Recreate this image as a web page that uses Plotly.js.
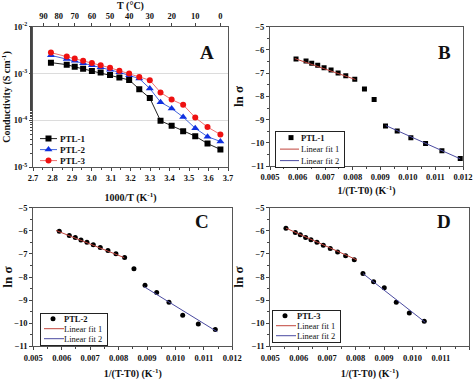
<!DOCTYPE html>
<html>
<head>
<meta charset="utf-8">
<script src="https://cdn.plot.ly/plotly-3.0.1.min.js"></script>
<style>html,body{margin:0;padding:0;background:#fff}#chart{width:474px;height:382px}</style>
</head>
<body>
<div id="chart"></div>
<script>
// ---------- Panel A data ----------
const invT = [2.792, 2.873, 2.914, 2.957, 3.002, 3.047, 3.095, 3.143, 3.193, 3.245, 3.299, 3.354, 3.411, 3.470, 3.532, 3.595, 3.661];
const condPTL1 = [1.71e-3, 1.55e-3, 1.39e-3, 1.26e-3, 1.14e-3, 1.05e-3, 9.3e-4, 8.2e-4, 7.3e-4, 4.65e-4, 3.0e-4, 9.8e-5, 7.7e-5, 5.85e-5, 4.6e-5, 3.2e-5, 2.4e-5];
const condPTL2 = [2.45e-3, 2.04e-3, 1.87e-3, 1.67e-3, 1.51e-3, 1.37e-3, 1.20e-3, 1.06e-3, 9.2e-4, 7.8e-4, 4.8e-4, 2.45e-4, 1.8e-4, 1.18e-4, 6.8e-5, 4.5e-5, 3.55e-5];
const condPTL3 = [2.8e-3, 2.31e-3, 2.09e-3, 1.87e-3, 1.69e-3, 1.51e-3, 1.33e-3, 1.15e-3, 1.0e-3, 8.4e-4, 7.2e-4, 3.95e-4, 2.78e-4, 2.15e-4, 1.15e-4, 7.2e-5, 5.0e-5];
const topTickVals = [2.754, 2.832, 2.914, 3.002, 3.095, 3.193, 3.299, 3.411, 3.532, 3.661];
const topTickText = ['90', '80', '70', '60', '50', '40', '30', '20', '10', '0'];
const logTickVals = [1e-5, 1e-4, 1e-3, 1e-2];
const logTickText = ['10<sup>-5</sup>', '10<sup>-4</sup>', '10<sup>-3</sup>', '10<sup>-2</sup>'];

// ---------- Panel B data (PTL-1) ----------
const xB = [0.005944, 0.006307, 0.006513, 0.006731, 0.006961, 0.007215, 0.00747, 0.007748, 0.008075, 0.008426, 0.008777, 0.009189, 0.009613, 0.010109, 0.010642, 0.011235, 0.0119];
const lnB = [-6.39, -6.475, -6.574, -6.66, -6.76, -6.86, -6.99, -7.11, -7.26, -7.68, -8.13, -9.27, -9.48, -9.78, -10.02, -10.33, -10.67];
const fit1xB = [0.0059, 0.0081], fit1yB = [-6.37, -7.27];
const fit2xB = [0.0092, 0.0119], fit2yB = [-9.25, -10.68];

// ---------- Panel C data (PTL-2) ----------
const xC = [0.005914, 0.006266, 0.006477, 0.006676, 0.006887, 0.00711, 0.007356, 0.007626, 0.007907, 0.008212, 0.00854, 0.008929, 0.00934, 0.009773, 0.010255, 0.010804, 0.011402];
const lnC = [-6.012, -6.197, -6.283, -6.397, -6.496, -6.596, -6.724, -6.853, -6.995, -7.152, -7.636, -8.35, -8.67, -9.09, -9.65, -10.03, -10.27];
const fit1xC = [0.0058, 0.0082], fit1yC = [-5.98, -7.16];
const fit2xC = [0.0089, 0.01147], fit2yC = [-8.42, -10.37];

// ---------- Panel D data (PTL-3) ----------
const xD = [0.005551, 0.005879, 0.006055, 0.006243, 0.00643, 0.006641, 0.006864, 0.00711, 0.007368, 0.007649, 0.007954, 0.008259, 0.008634, 0.009009, 0.009431, 0.009889, 0.010416];
const lnD = [-5.884, -6.069, -6.169, -6.283, -6.382, -6.496, -6.625, -6.767, -6.91, -7.081, -7.252, -7.85, -8.206, -8.463, -9.09, -9.56, -9.917];
const fit1xD = [0.00555, 0.00805], fit1yD = [-5.88, -7.26];
const fit2xD = [0.00826, 0.01045], fit2yD = [-7.85, -9.96];

const FONT = 'Liberation Serif, Times New Roman, serif';
const FIT1 = '#c0443c', FIT2 = '#4a4aa0';

const traces = [
  {x: invT, y: condPTL1, xaxis: 'x', yaxis: 'y', mode: 'lines+markers', name: 'PTL-1', legend: 'legend',
   line: {color: '#222', width: 1}, marker: {symbol: 'square', size: 6, color: '#000'}},
  {x: invT, y: condPTL2, xaxis: 'x', yaxis: 'y', mode: 'lines+markers', name: 'PTL-2', legend: 'legend',
   line: {color: '#4466dd', width: 1}, marker: {symbol: 'triangle-up', size: 7, color: '#1030e0'}},
  {x: invT, y: condPTL3, xaxis: 'x', yaxis: 'y', mode: 'lines+markers', name: 'PTL-3', legend: 'legend',
   line: {color: '#f07070', width: 1}, marker: {symbol: 'circle', size: 6, color: '#ee1111'}},
  {x: [], y: [], xaxis: 'x5', yaxis: 'y', showlegend: false, hoverinfo: 'skip'},

  {x: xB, y: lnB, xaxis: 'x2', yaxis: 'y2', mode: 'markers', name: '<b>PTL-1</b>', legend: 'legend2',
   marker: {symbol: 'square', size: 5, color: '#000'}},
  {x: fit1xB, y: fit1yB, xaxis: 'x2', yaxis: 'y2', mode: 'lines', name: 'Linear fit 1', legend: 'legend2', line: {color: FIT1, width: 1}},
  {x: fit2xB, y: fit2yB, xaxis: 'x2', yaxis: 'y2', mode: 'lines', name: 'Linear fit 2', legend: 'legend2', line: {color: FIT2, width: 1}},

  {x: xC, y: lnC, xaxis: 'x3', yaxis: 'y3', mode: 'markers', name: '<b>PTL-2</b>', legend: 'legend3',
   marker: {symbol: 'circle', size: 5, color: '#000'}},
  {x: fit1xC, y: fit1yC, xaxis: 'x3', yaxis: 'y3', mode: 'lines', name: 'Linear fit 1', legend: 'legend3', line: {color: FIT1, width: 1}},
  {x: fit2xC, y: fit2yC, xaxis: 'x3', yaxis: 'y3', mode: 'lines', name: 'Linear fit 2', legend: 'legend3', line: {color: FIT2, width: 1}},

  {x: xD, y: lnD, xaxis: 'x4', yaxis: 'y4', mode: 'markers', name: '<b>PTL-3</b>', legend: 'legend4',
   marker: {symbol: 'circle', size: 5, color: '#000'}},
  {x: fit1xD, y: fit1yD, xaxis: 'x4', yaxis: 'y4', mode: 'lines', name: 'Linear fit 1', legend: 'legend4', line: {color: FIT1, width: 1}},
  {x: fit2xD, y: fit2yD, xaxis: 'x4', yaxis: 'y4', mode: 'lines', name: 'Linear fit 2', legend: 'legend4', line: {color: FIT2, width: 1}}
];

const W = 474, H = 382;
const dx = (a, b) => [a / W, b / W];
const dy = (top, bot) => [1 - bot / H, 1 - top / H];
const tickFont = {family: FONT, size: 8.5, color: '#111', weight: 'bold'};
const titleFont = {family: FONT, size: 10, color: '#111', weight: 'bold'};

function linX(domain, anchor, title, standoff) {
  return {domain: domain, anchor: anchor, range: [0.005, 0.012], dtick: 0.001, tickformat: '.3f',
    ticks: 'outside', ticklen: 3, tickwidth: 1, tickcolor: '#444', showline: true, linecolor: '#555', linewidth: 1,
    mirror: true, showgrid: false, zeroline: false, tickfont: tickFont, automargin: false,
    minor: {dtick: 0.0005, ticks: 'outside', ticklen: 2, tickcolor: '#444'},
    title: {text: title, font: titleFont, standoff: standoff}};
}
function linY(domain, anchor) {
  return {domain: domain, anchor: anchor, range: [-11, -5], dtick: 1,
    ticks: 'outside', ticklen: 3, tickwidth: 1, tickcolor: '#444', showline: true, linecolor: '#555', linewidth: 1,
    mirror: true, showgrid: false, zeroline: false, tickfont: tickFont, automargin: false,
    minor: {dtick: 0.5, ticks: 'outside', ticklen: 2, tickcolor: '#444'},
    title: {text: 'ln σ', font: {family: FONT, size: 13, color: '#111', weight: 'bold'}, standoff: 4}};
}

const legendCommon = {font: {family: FONT, size: 8.5, color: '#111'}, bgcolor: 'rgba(255,255,255,0)',
  xanchor: 'left', yanchor: 'top', tracegroupgap: 0, itemwidth: 30};

const layout = {
  width: W, height: H, margin: {l: 0, r: 0, t: 0, b: 0},
  paper_bgcolor: '#fff', plot_bgcolor: '#fff', showlegend: true,
  font: {family: FONT},
  xaxis: {domain: dx(33, 228), anchor: 'y', range: [2.7, 3.7], dtick: 0.1, tickformat: '.1f',
    ticks: 'outside', ticklen: 3, tickcolor: '#444', showline: true, linecolor: '#555', linewidth: 1,
    showgrid: false, zeroline: false, tickfont: tickFont, automargin: false,
    minor: {dtick: 0.05, ticks: 'outside', ticklen: 2, tickcolor: '#444'},
    title: {text: '1000/T (K<sup>-1</sup>)', font: titleFont, standoff: 11}},
  xaxis5: {overlaying: 'x', side: 'top', anchor: 'y', range: [2.7, 3.7], tickvals: topTickVals, ticktext: topTickText,
    ticks: 'outside', ticklen: 3, tickcolor: '#444', showline: true, linecolor: '#555', linewidth: 1,
    showgrid: false, zeroline: false, tickfont: tickFont, automargin: false,
    title: {text: 'T (°C)', font: titleFont, standoff: 2}},
  yaxis: {domain: dy(27, 169), anchor: 'x', type: 'log', range: [-5, -2], tickvals: logTickVals, ticktext: logTickText,
    ticks: 'outside', ticklen: 3, tickcolor: '#444', showline: true, linecolor: '#555', linewidth: 1, mirror: true,
    showgrid: true, gridcolor: '#dcdcdc', gridwidth: 1, zeroline: false, tickfont: tickFont, automargin: false,
    minor: {ticks: 'outside', ticklen: 2, tickcolor: '#444', showgrid: false},
    title: {text: 'Conductivity (S cm<sup>-1</sup>)', font: titleFont, standoff: 3}},
  xaxis2: linX(dx(270, 463), 'y2', '1/(T-T0) (K<sup>-1</sup>)', 5),
  yaxis2: linY(dy(27, 168), 'x2'),
  xaxis3: linX(dx(33.3, 232.3), 'y3', '1/(T-T0) (K<sup>-1</sup>)', 8),
  yaxis3: linY(dy(210, 350), 'x3'),
  xaxis4: linX(dx(270.3, 469.3), 'y4', '1/(T-T0) (K<sup>-1</sup>)', 8),
  yaxis4: linY(dy(210, 350), 'x4'),
  legend: Object.assign({}, legendCommon, {x: 35 / W, y: 1 - 134 / H, font: {family: FONT, size: 9, color: '#111', weight: 'bold'}}),
  legend2: Object.assign({}, legendCommon, {x: 275 / W, y: 1 - 132.5 / H, bordercolor: '#222', borderwidth: 1, bgcolor: '#fff'}),
  legend3: Object.assign({}, legendCommon, {x: 40 / W, y: 1 - 316 / H, bordercolor: '#222', borderwidth: 1, bgcolor: '#fff'}),
  legend4: Object.assign({}, legendCommon, {x: 272 / W, y: 1 - 313.5 / H, bordercolor: '#222', borderwidth: 1, bgcolor: '#fff'}),
  annotations: [
    {text: 'A', x: 207 / W, y: 1 - 53 / H},
    {text: 'B', x: 444 / W, y: 1 - 53 / H},
    {text: 'C', x: 202 / W, y: 1 - 224 / H},
    {text: 'D', x: 444 / W, y: 1 - 224 / H}
  ].map(a => Object.assign(a, {xref: 'paper', yref: 'paper', showarrow: false, xanchor: 'center', yanchor: 'middle',
    font: {family: FONT, size: 19, color: '#111', weight: 'bold'}}))
};

// compact legend geometry (local legend coordinates, px)
const legendGeom = {
  legend:  {first: 6,   step: 11,   lineX: 5, lineLen: 17, markX: 13.5, textX: 25},
  legend2: {first: 6.5, step: 11.5, lineX: 4, lineLen: 19, markX: 15,   textX: 25},
  legend3: {first: 6,   step: 10,   lineX: 3, lineLen: 20, markX: 12,   textX: 23},
  legend4: {first: 5.5, step: 10,   lineX: 3, lineLen: 20, markX: 12,   textX: 24}
};

function textWidth(el) {
  let w = 0;
  try { w = el.getBBox().width; } catch (e) {}
  if (!w) { try { w = el.getComputedTextLength(); } catch (e) {} }
  if (!w) { w = (el.textContent || '').length * 4.6; }
  return w;
}

function compactLegends() {
  const gd = document.getElementById('chart');
  Object.keys(legendGeom).forEach(id => {
    const g = gd.querySelector('g.' + id);
    if (!g) return;
    const s = legendGeom[id];
    const items = g.querySelectorAll('g.traces');
    let maxRight = 0;
    items.forEach((tr, i) => {
      const m = /translate\(\s*([-\d.]+)/.exec(tr.getAttribute('transform') || '');
      const tx = m ? parseFloat(m[1]) : 0;
      tr.setAttribute('transform', `translate(${tx},${s.first + i * s.step})`);
      tr.querySelectorAll('text').forEach(txt => {
        txt.setAttribute('x', s.textX);
        txt.querySelectorAll('tspan').forEach(t => { if (t.hasAttribute('x')) t.setAttribute('x', s.textX); });
        maxRight = Math.max(maxRight, s.textX + textWidth(txt));
      });
      tr.querySelectorAll('g.legendlines path').forEach(p => p.setAttribute('d', `M${s.lineX},0h${s.lineLen}`));
      tr.querySelectorAll('path.scatterpts').forEach(p => p.setAttribute('transform', `translate(${s.markX},0)`));
    });
    const bg = g.querySelector('rect.bg');
    if (bg && maxRight > 0) {
      bg.setAttribute('width', Math.ceil(maxRight + 5));
      bg.setAttribute('height', Math.ceil(s.first + (items.length - 1) * s.step + 6));
    }
  });
}

Plotly.newPlot('chart', traces, layout, {displayModeBar: false, staticPlot: true}).then(() => {
  compactLegends();
  setTimeout(compactLegends, 30);
});
</script>
</body>
</html>
